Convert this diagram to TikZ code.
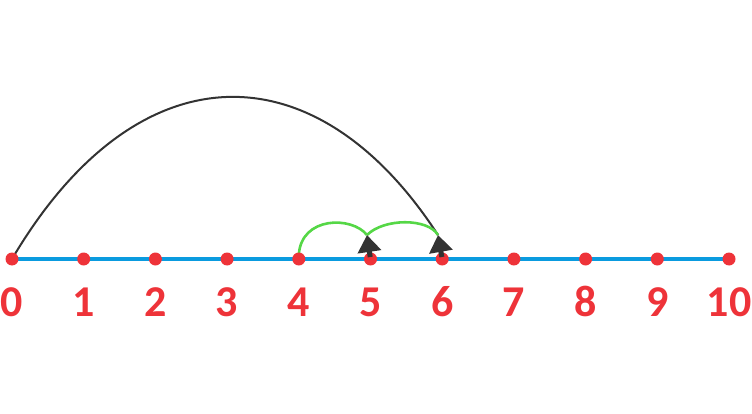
\documentclass[tikz,border=0pt]{standalone}
\usepackage{fontspec}
\setmainfont{Carlito}
\usetikzlibrary{arrows.meta}
\definecolor{axis}{HTML}{0A9BDF}
\definecolor{dotred}{HTML}{EE3339}
\definecolor{hop}{HTML}{55D746}
\definecolor{ink}{HTML}{333333}

\begin{document}
\begin{tikzpicture}[
  x=1pt,y=-1pt,
  axisline/.style={draw=axis,line width=4pt},
  tick/.style={circle,fill=dotred,inner sep=0pt,minimum size=13pt},
  num/.style={font=\fontsize{44}{44}\selectfont\bfseries,text=dotred,anchor=base,inner sep=0pt},
  bigjump/.style={draw=ink,line width=2pt},
  smalljump/.style={draw=hop,line width=2.6pt},
  head/.style={draw=ink,line width=5pt,shorten >=2pt,
               {Triangle[length=17pt 0 0,width=23pt 0 0]}-},
]
\useasboundingbox (0,0) rectangle (752,414);

% number line
\foreach \i in {0,...,10}
  \coordinate (c\i) at (12+71.7*\i,259);
\draw[axisline] (c0) -- (c10);

% jumps
\coordinate (h5) at (367,235);
\coordinate (h6) at (438,235);
\draw[bigjump] (c0) .. controls (137,47) and (316,47) .. (h6);
\draw[smalljump] (c4) ++(0,-4) .. controls (301,216) and (352,216) .. (h5);
\draw[smalljump] (h5) .. controls (384,218) and (428,218) .. (h6);

% points and labels
\foreach \i in {0,...,10} {
  \node[tick] (p\i) at (c\i) {};
  \node[num] (n\i) at (12+71.7*\i,316) {\i};
}

% arrow heads
\draw[head] (h5) -- (p5.center);
\draw[head] (h6) -- (p6.center);
\end{tikzpicture}
\end{document}
